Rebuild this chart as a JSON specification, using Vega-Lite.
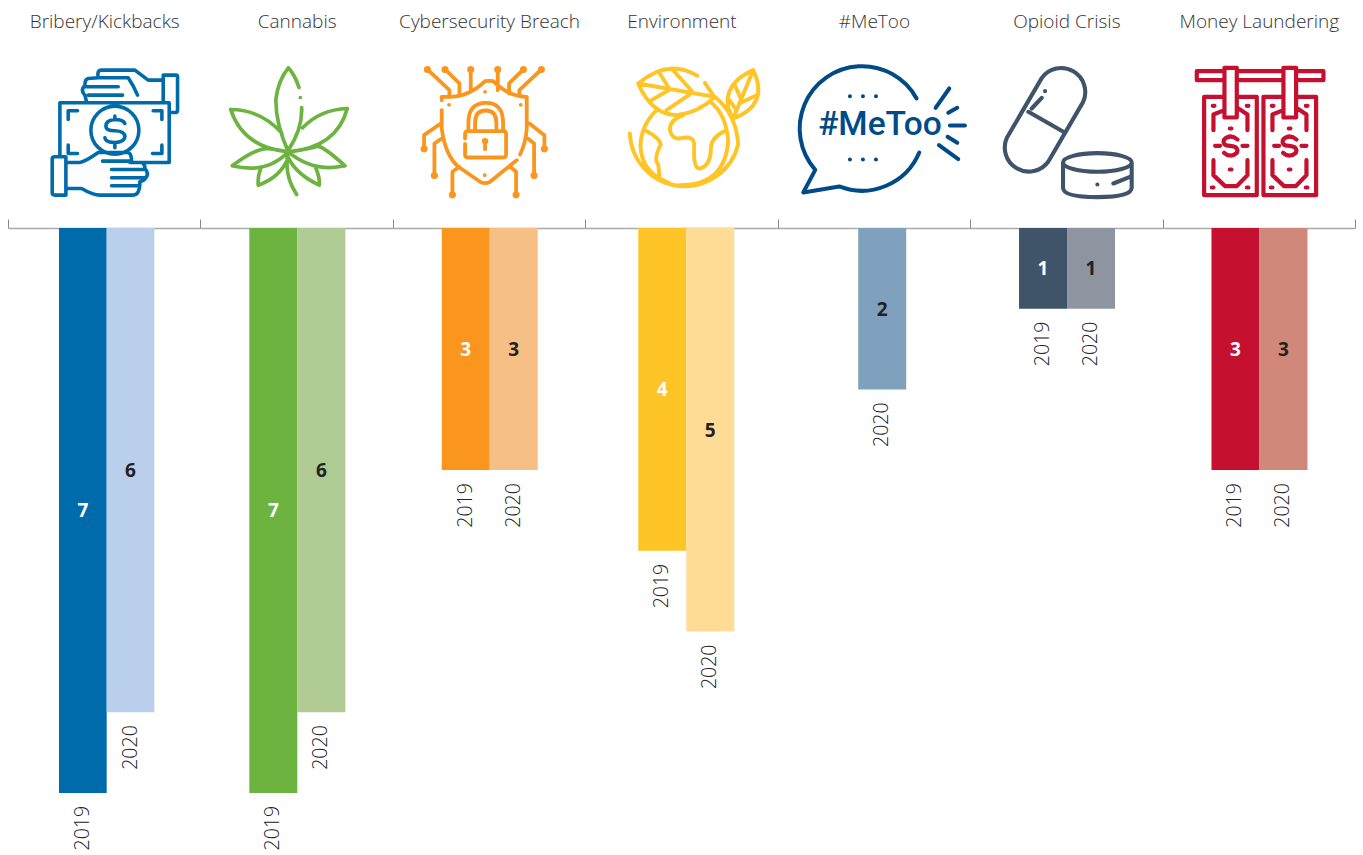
{"$schema":"https://vega.github.io/schema/vega-lite/v6.json","width":1347,"height":855,"autosize":"none","padding":{"left":8,"top":0,"right":8,"bottom":0},"background":"white","config":{"view":{"stroke":null},"font":"Open Sans"},"data":{"values":[{"category":"Bribery/Kickbacks","year":"2019","series":"Bribery/Kickbacks 2019","value":7},{"category":"Bribery/Kickbacks","year":"2020","series":"Bribery/Kickbacks 2020","value":6},{"category":"Cannabis","year":"2019","series":"Cannabis 2019","value":7},{"category":"Cannabis","year":"2020","series":"Cannabis 2020","value":6},{"category":"Cybersecurity Breach","year":"2019","series":"Cybersecurity Breach 2019","value":3},{"category":"Cybersecurity Breach","year":"2020","series":"Cybersecurity Breach 2020","value":3},{"category":"Environment","year":"2019","series":"Environment 2019","value":4},{"category":"Environment","year":"2020","series":"Environment 2020","value":5},{"category":"#MeToo","year":"2020","series":"#MeToo 2020","value":2},{"category":"Opioid Crisis","year":"2019","series":"Opioid Crisis 2019","value":1},{"category":"Opioid Crisis","year":"2020","series":"Opioid Crisis 2020","value":1},{"category":"Money Laundering","year":"2019","series":"Money Laundering 2019","value":3},{"category":"Money Laundering","year":"2020","series":"Money Laundering 2020","value":3}]},"layer":[{"transform":[{"filter":"datum.category!=='Environment'&&datum.category!=='#MeToo'&&datum.category!=='Bribery/Kickbacks'"}],"encoding":{"x":{"field":"category","type":"nominal","sort":null,"scale":{"domain":["Bribery/Kickbacks","Cannabis","Cybersecurity Breach","Environment","#MeToo","Opioid Crisis","Money Laundering"],"paddingInner":0,"paddingOuter":0},"axis":{"orient":"top","offset":-228,"title":null,"labelAngle":0,"labelFontSize":19,"labelFont":"Open Sans","labelFontWeight":300,"labelColor":"#333333","labelPadding":188,"labelBaseline":"bottom","tickBand":"extent","tickSize":9,"tickColor":"#888888","tickWidth":1,"domainColor":"#AAAAAA","domainWidth":1.5,"grid":false,"labelLimit":300}},"xOffset":{"field":"year","type":"nominal","scale":{"domain":["2019","2020"],"range":[48.9,144.9]}}},"layer":[{"mark":{"type":"bar"},"encoding":{"y":{"field":"value","type":"quantitative","axis":null,"scale":{"domain":[-2.825,7.769],"reverse":true,"nice":false,"zero":false}},"color":{"field":"series","type":"nominal","legend":null,"scale":{"domain":["Bribery/Kickbacks 2019","Bribery/Kickbacks 2020","Cannabis 2019","Cannabis 2020","Cybersecurity Breach 2019","Cybersecurity Breach 2020","Environment 2019","Environment 2020","#MeToo 2020","Opioid Crisis 2019","Opioid Crisis 2020","Money Laundering 2019","Money Laundering 2020"],"range":["#006BAB","#B9CFEB","#6CB33F","#AFCB93","#FA961E","#F6BF85","#FFC425","#FEDC96","#80A1BE","#3F5468","#8F94A1","#C5112F","#D0887A"]}}}},{"transform":[{"calculate":"datum.value/2","as":"mid"}],"mark":{"type":"text","font":"Open Sans","fontWeight":"bold","fontSize":19,"baseline":"middle","dy":1},"encoding":{"y":{"field":"mid","type":"quantitative"},"text":{"field":"value","type":"quantitative"},"color":{"condition":{"test":"datum.year==='2019'","value":"white"},"value":"#222222"}}},{"mark":{"type":"text","font":"Open Sans","fontWeight":300,"fontSize":19.5,"angle":270,"align":"right","baseline":"middle","dx":-13,"color":"#222222"},"encoding":{"y":{"field":"value","type":"quantitative"},"text":{"field":"year","type":"nominal"}}}]},{"transform":[{"filter":"datum.category==='Bribery/Kickbacks'"}],"encoding":{"x":{"field":"category","type":"nominal","sort":null},"xOffset":{"field":"year","type":"nominal","scale":{"domain":["2019","2020"],"range":[51,146.4]}}},"layer":[{"mark":{"type":"bar"},"encoding":{"y":{"field":"value","type":"quantitative"},"color":{"field":"series","type":"nominal","legend":null}}},{"transform":[{"calculate":"datum.value/2","as":"mid"}],"mark":{"type":"text","font":"Open Sans","fontWeight":"bold","fontSize":19,"baseline":"middle","dy":1},"encoding":{"y":{"field":"mid","type":"quantitative"},"text":{"field":"value","type":"quantitative"},"color":{"condition":{"test":"datum.year==='2019'","value":"white"},"value":"#222222"}}},{"mark":{"type":"text","font":"Open Sans","fontWeight":300,"fontSize":19.5,"angle":270,"align":"right","baseline":"middle","dx":-13,"color":"#222222"},"encoding":{"y":{"field":"value","type":"quantitative"},"text":{"field":"year","type":"nominal"}}}]},{"transform":[{"filter":"datum.category==='Environment'"}],"encoding":{"x":{"field":"category","type":"nominal","sort":null},"xOffset":{"field":"year","type":"nominal","scale":{"domain":["2019","2020"],"range":[53,149]}}},"layer":[{"mark":{"type":"bar"},"encoding":{"y":{"field":"value","type":"quantitative"},"color":{"field":"series","type":"nominal","legend":null}}},{"transform":[{"calculate":"datum.value/2","as":"mid"}],"mark":{"type":"text","font":"Open Sans","fontWeight":"bold","fontSize":19,"baseline":"middle","dy":1},"encoding":{"y":{"field":"mid","type":"quantitative"},"text":{"field":"value","type":"quantitative"},"color":{"condition":{"test":"datum.year==='2019'","value":"white"},"value":"#222222"}}},{"mark":{"type":"text","font":"Open Sans","fontWeight":300,"fontSize":19.5,"angle":270,"align":"right","baseline":"middle","dx":-13,"color":"#222222"},"encoding":{"y":{"field":"value","type":"quantitative"},"text":{"field":"year","type":"nominal"}}}]},{"transform":[{"filter":"datum.category==='#MeToo'"}],"encoding":{"x":{"field":"category","type":"nominal","sort":null},"xOffset":{"field":"year","type":"nominal","scale":{"domain":["2020"],"range":[80.5,128.5]}}},"layer":[{"mark":{"type":"bar"},"encoding":{"y":{"field":"value","type":"quantitative"},"color":{"field":"series","type":"nominal","legend":null}}},{"transform":[{"calculate":"datum.value/2","as":"mid"}],"mark":{"type":"text","font":"Open Sans","fontWeight":"bold","fontSize":19,"baseline":"middle","dy":1},"encoding":{"y":{"field":"mid","type":"quantitative"},"text":{"field":"value","type":"quantitative"},"color":{"value":"#222222"}}},{"mark":{"type":"text","font":"Open Sans","fontWeight":300,"fontSize":19.5,"angle":270,"align":"right","baseline":"middle","dx":-13,"color":"#222222"},"encoding":{"y":{"field":"value","type":"quantitative"},"text":{"field":"year","type":"nominal"}}}]},{"data":{"values":[{"category":"Bribery/Kickbacks"},{"category":"Cannabis"},{"category":"Cybersecurity Breach"},{"category":"Environment"},{"category":"#MeToo"},{"category":"Opioid Crisis"},{"category":"Money Laundering"}]},"mark":{"type":"point","filled":false,"size":0.4444,"strokeCap":"round","strokeJoin":"round","opacity":1},"encoding":{"x":{"field":"category","type":"nominal","sort":null},"y":{"datum":-1.2,"type":"quantitative"},"stroke":{"field":"category","type":"nominal","legend":null,"scale":{"domain":["Bribery/Kickbacks","Cannabis","Cybersecurity Breach","Environment","#MeToo","Opioid Crisis","Money Laundering"],"range":["#006BAB","#6CB33F","#FA961E","#FFC425","#004B87","#3F5468","#C5112F"]}},"strokeWidth":{"field":"category","type":"nominal","legend":null,"scale":{"domain":["Bribery/Kickbacks","Cannabis","Cybersecurity Breach","Environment","#MeToo","Opioid Crisis","Money Laundering"],"range":[3.6,4.2,3.9,4.2,4.2,4,3.8]}},"shape":{"field":"category","type":"nominal","legend":null,"scale":{"domain":["Bribery/Kickbacks","Cannabis","Cybersecurity Breach","Environment","#MeToo","Opioid Crisis","Money Laundering"],"range":["M-53 -88 L-58 -108 Q-73 -123 -58 -138 Q-58 -156 -48 -158 L-18 -160 Q-23 -183 -8 -183 L92 -183 Q112 -168 132 -153 L177 -153 M177 -88 V-168 H215 Q220 -168 220 -163 V-63 Q220 -56 213 -56 H197 M-18 -160 L72 -160 Q87 -138 100 -108 M-58 -133 H42 M-48 -108 H55 M-133 72 V-85 H195 V94 H77 M-108 -35 V-61 H-80 M147 -61 H173 V-35 M-108 42 V67 H-80 M145 67 H173 V42 M-40 -3 A72 72 0 1 1 104 -3 A72 72 0 1 1 -40 -3 M62 -23 Q57 -35 32 -35 Q5 -33 5 -15 Q5 -1 32 -1 Q62 0 62 17 Q60 34 32 34 Q5 34 2 20 M32 -45 V-35 M32 34 V50 M-115 77 H-148 Q-156 77 -156 84 V185 Q-156 192 -148 192 H-115 V77 M-115 94 H-73 Q-58 92 -18 64 L72 64 Q82 67 82 90 M-5 90 H77 M82 94 H112 Q122 97 122 112 Q137 127 122 144 Q117 150 107 152 Q107 172 102 182 Q97 192 87 192 H-13 Q-33 192 -68 172 H-115 M22 115 H122 M22 140 H122 M22 164 H105","M-25 62 Q-65 -28 -62 -98 Q-55 -153 -25 -190 Q-5 -168 7 -131 M11 -101 l0.1 0 M15 -71 Q18 -8 -25 57 M-198 -65 Q-110 -65 -45 5 M-198 -65 Q-160 50 -25 62 M152 -68 Q70 -65 18 -10 M152 -68 Q120 50 -25 62 M-193 104 Q-130 55 -90 52 Q-60 55 -25 62 M-193 104 Q-90 130 -25 62 M145 104 Q85 50 65 45 Q30 55 -25 62 M145 104 Q50 125 -25 62 M-115 162 Q-50 140 -25 80 M-115 162 Q-118 140 -108 112 M68 162 Q0 130 -25 80 M68 162 Q70 140 58 112 M-25 62 Q-40 130 0 190","M-142 -93 V-103 H-120 Q-60 -103 -12 -150 Q0 -152 12 -150 Q60 -103 113 -103 V-8 Q111 32 93 70 M-142 -63 V-8 Q-132 72 -92 107 L-27 152 Q-12 160 3 152 L83 87 M-72 22 V8 Q-72 0 -64 0 H43 Q51 0 51 8 V71 Q51 79 43 79 H-64 Q-72 79 -72 71 V38 M-62 0 V-25 Q-62 -85 -10 -85 Q42 -85 42 -25 V0 M-42 0 V-25 Q-42 -62 -10 -62 Q22 -62 22 -25 V0 M-16 30 A4 4 0 1 1 -8 30 A4 4 0 1 1 -16 30 M-12 36 V54 M-120 -79 l0.1 0 M95 -79 l0.1 0 M-12 -118 l0.1 0 M-13 132 l0.1 0 M-185 -185 L-119 -123 V-106 M-132 -185 L-89 -143 V-113 M-55 -185 V-123 M26 -185 V-123 M103 -185 L60 -143 V-113 M157 -185 L91 -123 V-106 M-195 53 V12 L-145 -23 M166 53 V12 L121 -23 M-164 133 V37 L-142 22 M135 133 V37 L116 22 M-110 191 V122 L-89 107 M81 191 V122 L63 107 M-190 -185 A5 5 0 1 1 -180 -185 A5 5 0 1 1 -190 -185 M-137 -185 A5 5 0 1 1 -127 -185 A5 5 0 1 1 -137 -185 M-60 -185 A5 5 0 1 1 -50 -185 A5 5 0 1 1 -60 -185 M21 -185 A5 5 0 1 1 31 -185 A5 5 0 1 1 21 -185 M98 -185 A5 5 0 1 1 108 -185 A5 5 0 1 1 98 -185 M152 -185 A5 5 0 1 1 162 -185 A5 5 0 1 1 152 -185 M-200 53 A5 5 0 1 1 -190 53 A5 5 0 1 1 -200 53 M161 53 A5 5 0 1 1 171 53 A5 5 0 1 1 161 53 M-169 133 A5 5 0 1 1 -159 133 A5 5 0 1 1 -169 133 M130 133 A5 5 0 1 1 140 133 A5 5 0 1 1 130 133 M-115 191 A5 5 0 1 1 -105 191 A5 5 0 1 1 -115 191 M76 191 A5 5 0 1 1 86 191 A5 5 0 1 1 76 191","M-130 -143 Q-40 -220 48 -166 M-130 -143 Q-90 -50 -15 -48 Q50 -55 100 -103 M-130 -143 L100 -103 M-67 -176 L-35 -125 M-30 -188 L33 -118 M-90 -93 L-35 -125 M-45 -63 L25 -110 M215 -183 Q140 -150 138 -90 Q140 -60 155 -38 M215 -183 Q265 -80 155 -38 M215 -183 L155 -38 M160 -138 L180 -93 M230 -110 L173 -83 M140 -98 L165 -63 M-155 7 A165 165 0 0 0 170 40 Q165 -50 100 -103 M70 -145 L95 -108 M-75 -63 Q-123 -15 -123 45 Q-120 125 -38 155 M-7 162 Q130 165 140 30 Q135 -50 85 -90 M5 -48 Q-35 -35 -35 -3 Q-28 25 -5 22 Q40 10 38 45 Q35 115 55 112 Q85 105 88 60 Q85 20 130 0 M-110 -3 Q-65 20 -62 40 Q-85 85 -70 100 Q-65 130 -68 147","M128 -98 A187 187 0 1 0 -176 116 L-212 184 L-104 166 A187 187 0 0 0 136 64 M-72 -105 l0.1 0 M-33 -105 l0.1 0 M6 -105 l0.1 0 M-72 85 l0.1 0 M-33 85 l0.1 0 M6 85 l0.1 0 M185 -70 L226 -128 M223 -55 L250 -70 M228 -17 H273 M221 17 L250 35 M195 42 L253 84","M-74 -159 A72 72 0 0 1 50 -87 L-54 91 A72 72 0 0 1 -178 19 Z M-114 -58 L-9 2 M-104 -68 L-74 -100 M-64 -120 l0.1 0 M-10 94 A103 28 0 1 1 196 94 A103 28 0 1 1 -10 94 M-10 94 V170 Q-10 198 93 198 Q196 198 196 170 V94 M141 157 L191 137 M93 160 l0.1 0","M-103 -180 H-186 V-153 H-103 M-66 -180 H74 M-66 -153 H74 M112 -180 H194 V-153 H112 M-103 -190 H-66 V-41 H-103 Z M74 -190 H112 V-41 H74 Z M-103 -103 H-164 V192 H-6 V-103 H-66 M74 -103 H14 V192 H172 V-103 H112 M-136 -3 V-50 L-111 -60 M-34 -3 V-50 L-61 -68 M-136 87 V132 L-101 165 H-66 L-34 132 V87 M-138 -76 h5 M-36 -76 h5 M-87 -8 h5 M-87 115 h5 M-141 169 h5 M-36 169 h5 M-64 25 Q-85 7 -104 25 Q-111 44 -85 44 Q-58 47 -66 65 Q-85 82 -104 65 M-131 44 H-116 M-49 44 H-34 M41 -3 V-50 L66 -60 M143 -3 V-50 L116 -68 M41 87 V132 L76 165 H111 L143 132 V87 M39 -76 h5 M141 -76 h5 M90 -8 h5 M90 115 h5 M36 169 h5 M141 169 h5 M113 25 Q92 7 73 25 Q66 44 92 44 Q119 47 111 65 Q92 82 73 65 M46 44 H61 M128 44 H143"]}}}},{"data":{"values":[{"category":"#MeToo","tag":"#MeToo"}]},"mark":{"type":"text","font":"Roboto","fontWeight":500,"fontSize":33.5,"baseline":"middle","dx":6,"color":"#004B87"},"encoding":{"x":{"field":"category","type":"nominal","sort":null},"y":{"datum":-1.276,"type":"quantitative"},"text":{"field":"tag","type":"nominal"}}}],"resolve":{"scale":{"xOffset":"independent"}}}
